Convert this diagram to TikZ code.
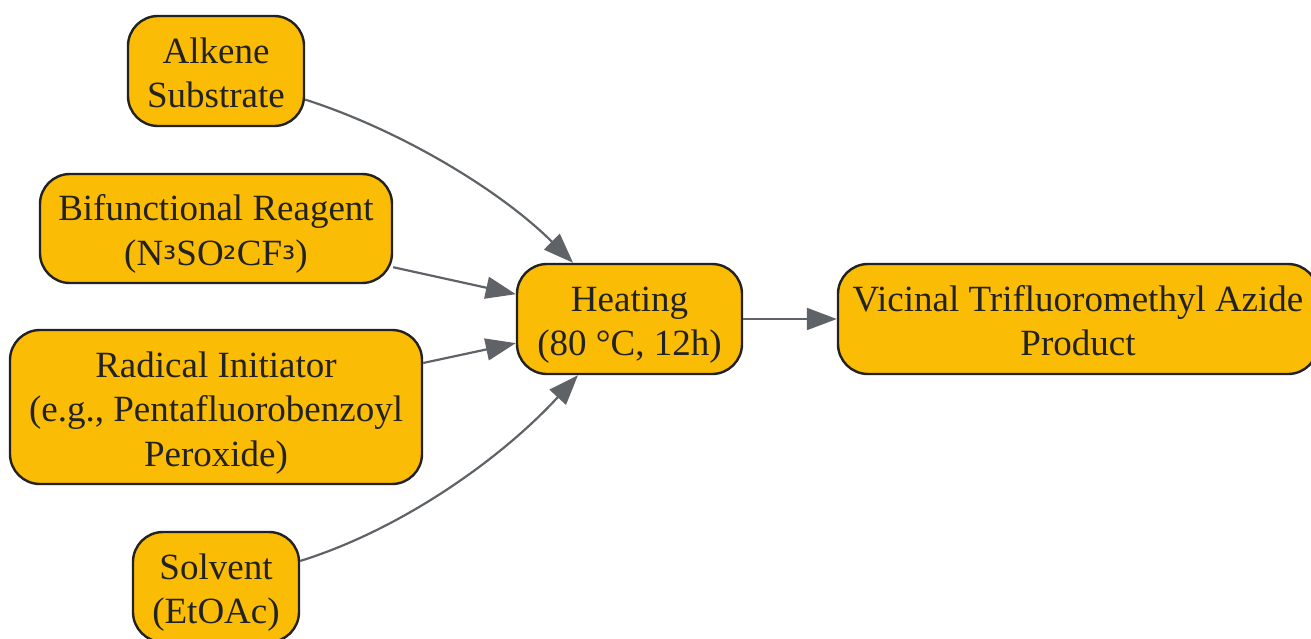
\documentclass[tikz,border=0pt]{standalone}
\usepackage{fontspec}
\setmainfont{Liberation Serif}
\newfontfamily\subfont{DejaVu Sans}
\usetikzlibrary{arrows.meta}
\definecolor{boxfill}{HTML}{FBBC05}
\definecolor{boxline}{HTML}{222222}
\definecolor{edgecol}{HTML}{5F6368}
\newcommand{\sbs}[1]{\raisebox{0.16em}{\subfont\fontsize{33}{33}\selectfont #1}}
\newcommand{\ts}{\rule{0pt}{37pt}}
\newcommand{\bs}{\rule[-8pt]{0pt}{8pt}}
\begin{document}
\begin{tikzpicture}[x=1pt,y=-1pt,
  box/.style={draw=boxline, fill=boxfill, line width=2.4pt, rounded corners=30pt,
    align=center, text=boxline, inner sep=0pt,
    font=\fontsize{37}{44.5}\selectfont},
  conn/.style={draw=edgecol, line width=2.2pt,
    -{Triangle[length=30pt,width=22pt]}}]
\useasboundingbox (0,0) rectangle (1311,638);
\node[box, minimum width=176pt, minimum height=110pt] (alk) at (216,71) {\ts Alkene\\Substrate\bs};
\node[box, minimum width=352pt, minimum height=109pt] (bif) at (216,228.5) {\ts Bifunctional Reagent\\(N\sbs{₃}SO\sbs{₂}CF\sbs{₃})\bs};
\node[box, minimum width=412pt, minimum height=154pt] (rad) at (216,407) {\ts Radical Initiator\\(e.g., Pentafluorobenzoyl\\Peroxide)\bs};
\node[box, minimum width=166pt, minimum height=110pt] (sol) at (216,587) {\ts Solvent\\(EtOAc)\bs};
\node[box, minimum width=225pt, minimum height=110pt] (heat) at (629.5,319) {\ts Heating\\(80 °C, 12h)\bs};
\node[box, minimum width=480pt, minimum height=110pt] (prod) at (1078,319) {\ts Vicinal Trifluoromethyl Azide\\Product\bs};
\draw[conn] (alk) .. controls (400,130) and (500,190) .. (heat);
\draw[conn] (bif) -- (heat);
\draw[conn] (rad) -- (heat);
\draw[conn] (sol) .. controls (400,530) and (500,460) .. (heat);
\draw[conn] (heat) -- (prod);
\end{tikzpicture}
\end{document}
